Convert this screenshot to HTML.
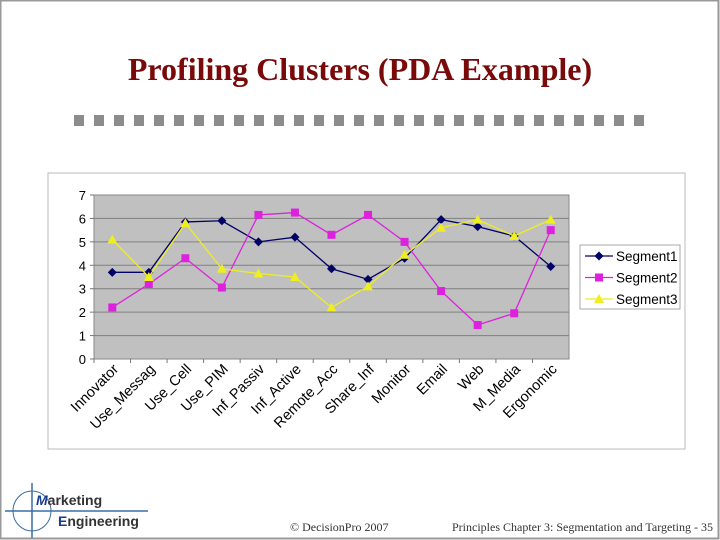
<!DOCTYPE html>
<html><head><meta charset="utf-8"><style>
body{margin:0;width:720px;height:540px;overflow:hidden;background:#fff;}
svg{display:block}
</style></head><body>
<svg width="720" height="540" viewBox="0 0 720 540" xmlns="http://www.w3.org/2000/svg" font-family="Liberation Sans, sans-serif">
<rect x="0.5" y="0.5" width="718" height="538" fill="#fff" stroke="#999" stroke-width="2"/>
<text x="360" y="80" text-anchor="middle" font-family="Liberation Serif, serif" font-size="32" font-weight="bold" fill="#7a0a0a">Profiling Clusters (PDA Example)</text>
<g id="dots"></g>
<rect x="48" y="173" width="637" height="276" fill="#fff" stroke="#bbb"/>
<g id="chart"></g>
<g>
<rect x="580" y="245" width="100" height="64" fill="#fff" stroke="#aaa"/>
</g>
<g id="legend"></g>
<g>
<line x1="5" y1="511" x2="148" y2="511" stroke="#3a6ea5" stroke-width="1.5"/>
<line x1="32" y1="483" x2="32" y2="538" stroke="#3a6ea5" stroke-width="1.5"/>
<ellipse cx="32" cy="511" rx="19" ry="20" fill="none" stroke="#3a6ea5"/>
<text x="36" y="505" font-size="14" font-weight="bold" fill="#333"><tspan fill="#1a3d8f" font-style="italic">M</tspan>arketing</text>
<text x="58" y="526" font-size="14" font-weight="bold" fill="#333"><tspan fill="#1a3d8f">E</tspan>ngineering</text>
</g>
<text x="290" y="531" font-family="Liberation Serif, serif" font-size="12" fill="#333">© DecisionPro 2007</text>
<text x="713" y="531" text-anchor="end" font-family="Liberation Serif, serif" font-size="12" fill="#333">Principles Chapter 3: Segmentation and Targeting - 35</text>
</svg>
<script>
const categories=["Innovator","Use_Messag","Use_Cell","Use_PIM","Inf_Passiv","Inf_Active","Remote_Acc","Share_Inf","Monitor","Email","Web","M_Media","Ergonomic"];
const segment1=[3.7,3.7,5.85,5.9,5.0,5.2,3.85,3.4,4.3,5.95,5.65,5.25,3.95];
const segment2=[2.2,3.2,4.3,3.05,6.15,6.25,5.3,6.15,5.0,2.9,1.45,1.95,5.5];
const segment3=[5.1,3.5,5.8,3.85,3.65,3.5,2.2,3.1,4.45,5.6,5.95,5.25,5.95];
const yTicks=[0,1,2,3,4,5,6,7];
const seriesNames=["Segment1","Segment2","Segment3"];
const NS="http://www.w3.org/2000/svg";
function mk(tag,attrs,parent){const e=document.createElementNS(NS,tag);for(const k in attrs)e.setAttribute(k,attrs[k]);parent.appendChild(e);return e;}
const dots=document.getElementById('dots');
for(let i=0;i<29;i++){const r=mk('rect',{x:74+i*20,y:115,width:10,height:11,fill:'#8c8c8c'},dots);

}
const X0=94,X1=569,Y0=359,Y1=195;
const cw=(X1-X0)/categories.length;
const x=i=>X0+cw*(i+0.5);
const y=v=>Y0-(v/7)*(Y0-Y1);
const g=document.getElementById('chart');
const pa=mk('rect',{x:X0,y:Y1,width:X1-X0,height:Y0-Y1,fill:'#c0c0c0',stroke:'#888'},g);


yTicks.forEach(t=>{
 if(t>0&&t<7){const l=mk('line',{x1:X0,x2:X1,y1:y(t),y2:y(t),stroke:'#7f7f7f'},g);
 
 }
 mk('line',{x1:X0-4,x2:X0,y1:y(t),y2:y(t),stroke:'#777'},g);
 const tx=mk('text',{x:X0-8,y:y(t)+5,'text-anchor':'end','font-size':13,fill:'#000'},g);
 tx.textContent=t;
 
 
});
categories.forEach((c,i)=>{
 mk('line',{x1:X0+cw*i,x2:X0+cw*i,y1:Y0,y2:Y0+4,stroke:'#777'},g);
 const tx=mk('text',{x:x(i)+7,y:Y0+11,'text-anchor':'end','font-size':14.5,fill:'#000',transform:`rotate(-45 ${x(i)+7} ${Y0+11})`},g);
 tx.textContent=c;
 
 
});
const series=[segment1,segment2,segment3];
const colors=["#000066","#dd22dd","#eeee22"];
function marker(k,cx,cy,parent){
 if(k===0)return mk('polygon',{points:`${cx},${cy-4.5} ${cx+4.5},${cy} ${cx},${cy+4.5} ${cx-4.5},${cy}`,fill:colors[0]},parent);
 if(k===1)return mk('rect',{x:cx-4,y:cy-4,width:8,height:8,fill:colors[1]},parent);
 return mk('polygon',{points:`${cx},${cy-5} ${cx+5},${cy+4} ${cx-5},${cy+4}`,fill:colors[2]},parent);
}
series.forEach((s,k)=>{
 const sg=mk('g',{},g);
 
 
 const pl=mk('polyline',{points:s.map((v,i)=>x(i)+','+y(v)).join(' '),fill:'none',stroke:colors[k],'stroke-width':1.3},sg);
 
 
 s.forEach((v,i)=>{const m=marker(k,x(i),y(v),sg);
 
 });
});
const lg=document.getElementById('legend');
seriesNames.forEach((n,k)=>{
 const ly=256+k*21.5;
 const e=mk('g',{},lg);
 
 
 mk('line',{x1:585,x2:613,y1:ly,y2:ly,stroke:colors[k],'stroke-width':1.3},e);
 marker(k,599,ly,e);
 const t=mk('text',{x:616,y:ly+5,'font-size':13.5,fill:'#000'},e);
 t.textContent=n;
});
</script>
</body></html>
